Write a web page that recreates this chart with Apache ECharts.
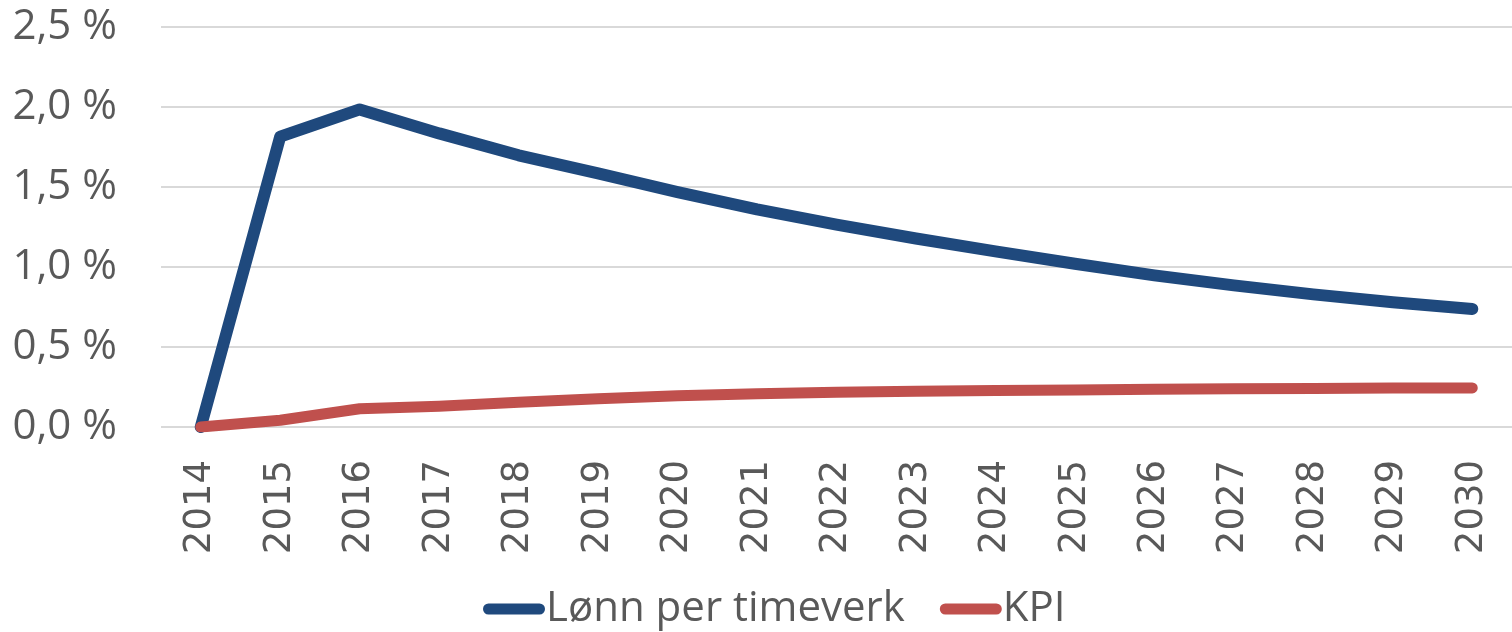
<!DOCTYPE html>
<html>
<head>
<meta charset="utf-8">
<script src="https://cdn.jsdelivr.net/npm/echarts@6/dist/echarts.min.js"></script>
<style>
html,body{margin:0;padding:0;background:#fff;}
#chart{width:1512px;height:632px;}
</style>
</head>
<body>
<div id="chart"></div>
<script>
var years = ['2014','2015','2016','2017','2018','2019','2020','2021','2022','2023','2024','2025','2026','2027','2028','2029','2030'];
var lonn = [0, 1.815, 1.985, 1.835, 1.698, 1.585, 1.468, 1.36, 1.265, 1.178, 1.098, 1.02, 0.948, 0.885, 0.829, 0.78, 0.738];
var kpi = [0, 0.042, 0.114, 0.13, 0.154, 0.176, 0.196, 0.208, 0.217, 0.223, 0.228, 0.232, 0.236, 0.239, 0.241, 0.243, 0.244];
var seriesNames = ['Lønn per timeverk', 'KPI'];
var yTicks = {min: 0, max: 2.5, interval: 0.5};

var chart = echarts.init(document.getElementById('chart'));
var capsule = 'path://M5.5,0 H56.5 A5.5,5.5 0 0 1 56.5,11 H5.5 A5.5,5.5 0 0 1 5.5,0 Z';
chart.setOption({
  animation: false,
  grid: {left: 161, right: -8, top: 27, bottom: 205, containLabel: false},
  legend: {
    bottom: 2,
    left: 483,
    itemWidth: 62,
    itemHeight: 11,
    itemGap: 35,
    padding: 0,
    textStyle: {fontFamily: "'Open Sans'", fontSize: 42, color: '#595959', padding: [0,0,0,-4]},
    data: [
      {name: seriesNames[0], icon: capsule},
      {name: seriesNames[1], icon: capsule}
    ]
  },
  xAxis: {
    type: 'category',
    data: years,
    boundaryGap: true,
    axisLine: {show: false},
    axisTick: {show: false},
    axisLabel: {rotate: 90, margin: 33, fontFamily: 'DejaVu Sans', fontSize: 37, color: '#595959'}
  },
  yAxis: {
    type: 'value',
    min: yTicks.min, max: yTicks.max, interval: yTicks.interval,
    axisLine: {show: false},
    axisTick: {show: false},
    splitLine: {lineStyle: {color: '#D9D9D9', width: 2}},
    axisLabel: {
      margin: 44,
      fontFamily: "'Open Sans'", fontSize: 42, color: '#595959',
      formatter: function (v) { return v.toFixed(1).replace('.', ',') + ' %'; }
    }
  },
  series: [
    {name: seriesNames[0], type: 'line', data: lonn, symbol: 'none', color: '#1F497D',
     lineStyle: {width: 12, color: '#1F497D', cap: 'round', join: 'round'}},
    {name: seriesNames[1], type: 'line', data: kpi, symbol: 'none', color: '#C0504D',
     lineStyle: {width: 11, color: '#C0504D', cap: 'round', join: 'round'}}
  ]
});
</script>
</body>
</html>
